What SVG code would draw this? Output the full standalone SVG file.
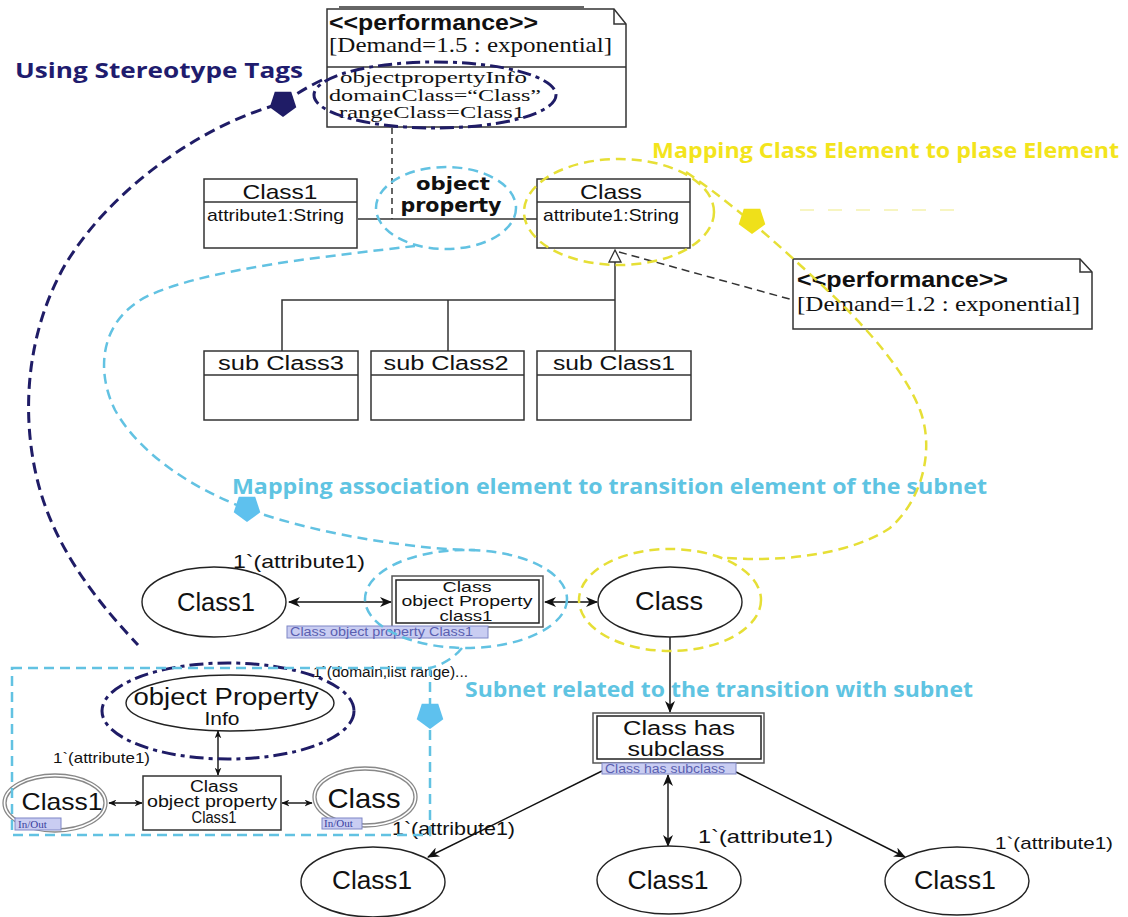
<svg xmlns="http://www.w3.org/2000/svg" width="1128" height="917" viewBox="0 0 1128 917">
<defs>
<style>
.bx{fill:#fff;stroke:#333;stroke-width:1.5}
.ln{fill:none;stroke:#333;stroke-width:1.5}
.pl{fill:#fff;stroke:#222;stroke-width:1.4}
.io{fill:none;stroke:#888;stroke-width:1.3}
.t{font-family:"Liberation Sans",Arial,sans-serif;fill:#111}
.c{text-anchor:middle}
.sf{font-family:"Liberation Serif","Times New Roman",serif;fill:#111}
.st{font-family:"Liberation Sans Narrow","Liberation Sans",Arial,sans-serif;font-weight:bold;fill:#111}
.ttl{font-family:"Open Sans","Noto Sans",sans-serif;font-weight:bold}
.navy{fill:none;stroke:#1f1c66;stroke-width:3;stroke-dasharray:11 6}
.navydd{fill:none;stroke:#1f1c66;stroke-width:3;stroke-dasharray:14 5 4 5}
.blue{fill:none;stroke:#62c2e2;stroke-width:2.5;stroke-dasharray:10 6}
.yel{fill:none;stroke:#e6df36;stroke-width:2.5;stroke-dasharray:10 6}
.lab{fill:#c9cdf2;stroke:#7f86c6;stroke-width:1}
.labt{font-family:"Liberation Sans",Arial,sans-serif;fill:#5a5fb0;font-size:12px}
.arr{fill:none;stroke:#111;stroke-width:1.4}
</style>
<marker id="ah" viewBox="0 0 12 10" refX="11" refY="5" markerWidth="12" markerHeight="10" orient="auto-start-reverse" markerUnits="userSpaceOnUse"><path d="M0,0 L12,5 L0,10 L3.5,5 Z" fill="#111"/></marker>
<marker id="as" viewBox="0 0 12 10" refX="11" refY="5" markerWidth="8" markerHeight="7" orient="auto-start-reverse" markerUnits="userSpaceOnUse"><path d="M0,0 L12,5 L0,10 L3.5,5 Z" fill="#111"/></marker>
<polygon id="pent" points="0,14 -13.3,4.3 -8.2,-11.3 8.2,-11.3 13.3,4.3"/>
</defs>
<rect width="1128" height="917" fill="#fff"/>

<!-- Titles -->
<g id="titles">
<text class="ttl" x="15" y="78" font-size="22" fill="#1f1c6e" textLength="288" lengthAdjust="spacingAndGlyphs">Using Stereotype Tags</text>
<text class="ttl" x="652" y="158" font-size="21" fill="#f3e41c" textLength="467" lengthAdjust="spacingAndGlyphs">Mapping Class Element to plase Element</text>
<text class="ttl" x="232" y="494" font-size="21" fill="#5fc4e2" textLength="755" lengthAdjust="spacingAndGlyphs">Mapping association element to transition element of the subnet</text>
<text class="ttl" x="465" y="697" font-size="21" fill="#5fc4e2" textLength="508" lengthAdjust="spacingAndGlyphs">Subnet related to the transition with subnet</text>
</g>

<!-- UML connectors -->
<g id="connectors">
<line class="ln" x1="358" y1="219" x2="537" y2="219"/>
<line class="ln" x1="392" y1="128" x2="392" y2="219" stroke-dasharray="6 4" stroke-width="1.2"/>
<line class="ln" x1="619" y1="252" x2="793" y2="300" stroke-dasharray="8 5" stroke-width="1.2"/>
<polyline class="ln" points="282,351 282,300 615,300"/>
<line class="ln" x1="448" y1="300" x2="448" y2="351"/>
<line class="ln" x1="615" y1="262" x2="615" y2="351"/>
<polygon points="615,250 609,262 621,262" fill="#fff" stroke="#333" stroke-width="1.3"/>
<line class="arr" x1="289" y1="602" x2="391" y2="602" marker-start="url(#ah)" marker-end="url(#ah)"/>
<line class="arr" x1="545" y1="602" x2="597" y2="602" marker-start="url(#ah)" marker-end="url(#ah)"/>
<line class="arr" x1="670" y1="637" x2="670" y2="712" marker-end="url(#ah)"/>
<line class="arr" x1="602" y1="771" x2="428" y2="857" marker-end="url(#ah)"/>
<line class="arr" x1="668" y1="775" x2="668" y2="846" marker-start="url(#ah)" marker-end="url(#ah)"/>
<line class="arr" x1="736" y1="772" x2="905" y2="857" marker-end="url(#ah)"/>
<line class="arr" x1="218" y1="731" x2="218" y2="775" stroke-width="1" marker-start="url(#as)" marker-end="url(#as)"/>
<line class="arr" x1="109" y1="803" x2="142" y2="803" stroke-width="1" marker-start="url(#as)" marker-end="url(#as)"/>
<line class="arr" x1="282" y1="803" x2="312" y2="803" stroke-width="1" marker-start="url(#as)" marker-end="url(#as)"/>
</g>

<!-- top performance note -->
<g id="note-top">
<path class="bx" d="M327,9 H614 L626,24 V127 H327 Z"/>
<path class="ln" d="M614,9 V24 H626" stroke-width="1.2"/>
<line x1="339" y1="7" x2="584" y2="7" stroke="#333" stroke-width="1.5"/>
<line x1="327" y1="67" x2="626" y2="67" stroke="#333" stroke-width="1.5"/>
<text class="st" x="329" y="30" font-size="22" textLength="209" lengthAdjust="spacingAndGlyphs">&lt;&lt;performance&gt;&gt;</text>
<text class="sf" x="329" y="52" font-size="21" textLength="283" lengthAdjust="spacingAndGlyphs">[Demand=1.5 : exponential]</text>
<text class="sf" x="340" y="83" font-size="17" textLength="187" lengthAdjust="spacingAndGlyphs">objectpropertyInfo</text>
<text class="sf" x="329" y="101" font-size="17" textLength="212" lengthAdjust="spacingAndGlyphs">domainClass=“Class”</text>
<text class="sf" x="339" y="118" font-size="17" textLength="186" lengthAdjust="spacingAndGlyphs">rangeClass=Class1</text>
</g>

<g id="class1-uml">
<rect class="bx" x="204" y="179" width="153" height="69"/>
<line x1="204" y1="202" x2="357" y2="202" stroke="#333" stroke-width="1.3"/>
<text class="t c" x="280" y="199" font-size="21" textLength="75" lengthAdjust="spacingAndGlyphs">Class1</text>
<text class="t" x="207" y="221" font-size="17" textLength="137" lengthAdjust="spacingAndGlyphs">attribute1:String</text>
</g>

<g id="class-uml">
<rect class="bx" x="537" y="179" width="153" height="69"/>
<line x1="537" y1="202" x2="690" y2="202" stroke="#333" stroke-width="1.3"/>
<text class="t c" x="611" y="199" font-size="21" textLength="62" lengthAdjust="spacingAndGlyphs">Class</text>
<text class="t" x="543" y="221" font-size="17" textLength="136" lengthAdjust="spacingAndGlyphs">attribute1:String</text>
</g>

<g id="objprop-label">
<text class="c" x="453" y="190" font-family="DejaVu Sans, Verdana, sans-serif" font-weight="bold" font-size="18" fill="#111" textLength="74" lengthAdjust="spacingAndGlyphs">object</text>
<text class="c" x="451" y="212" font-family="DejaVu Sans, Verdana, sans-serif" font-weight="bold" font-size="19" fill="#111" textLength="101" lengthAdjust="spacingAndGlyphs">property</text>
</g>

<g id="subclass3">
<rect class="bx" x="204" y="351" width="154" height="69"/>
<line x1="204" y1="375" x2="358" y2="375" stroke="#333" stroke-width="1.3"/>
<text class="t c" x="281" y="370" font-size="20" textLength="126" lengthAdjust="spacingAndGlyphs">sub Class3</text>
</g>
<g id="subclass2">
<rect class="bx" x="371" y="351" width="153" height="69"/>
<line x1="371" y1="375" x2="524" y2="375" stroke="#333" stroke-width="1.3"/>
<text class="t c" x="446" y="370" font-size="20" textLength="125" lengthAdjust="spacingAndGlyphs">sub Class2</text>
</g>
<g id="subclass1">
<rect class="bx" x="537" y="351" width="154" height="69"/>
<line x1="537" y1="375" x2="691" y2="375" stroke="#333" stroke-width="1.3"/>
<text class="t c" x="614" y="370" font-size="20" textLength="122" lengthAdjust="spacingAndGlyphs">sub Class1</text>
</g>

<g id="note-right">
<path class="bx" d="M793,259 H1080 L1092,272 V329 H793 Z"/>
<path class="ln" d="M1080,259 V272 H1092" stroke-width="1.2"/>
<text class="st" x="797" y="287" font-size="22" textLength="211" lengthAdjust="spacingAndGlyphs">&lt;&lt;performance&gt;&gt;</text>
<text class="sf" x="797" y="311" font-size="21" textLength="283" lengthAdjust="spacingAndGlyphs">[Demand=1.2 : exponential]</text>
</g>

<!-- Petri net main -->
<g id="place-class1">
<ellipse class="pl" cx="214" cy="602" rx="72" ry="35"/>
<text class="t c" x="216" y="611" font-size="25" textLength="78" lengthAdjust="spacingAndGlyphs">Class1</text>
<text class="t" x="233" y="568" font-size="19" textLength="132" lengthAdjust="spacingAndGlyphs">1`(attribute1)</text>
</g>

<g id="trans-objprop">
<rect x="392" y="576" width="151" height="51" fill="#fff" stroke="#555" stroke-width="1.5"/>
<rect x="396" y="580" width="143" height="43" fill="none" stroke="#222" stroke-width="1.5"/>
<text class="t c" x="467" y="592" font-size="14" textLength="49" lengthAdjust="spacingAndGlyphs">Class</text>
<text class="t c" x="467" y="606" font-size="14" textLength="131" lengthAdjust="spacingAndGlyphs">object Property</text>
<text class="t c" x="466" y="621" font-size="14" textLength="53" lengthAdjust="spacingAndGlyphs">class1</text>
<rect class="lab" x="287" y="626" width="201" height="12"/>
<text class="labt" x="290" y="636" textLength="183" lengthAdjust="spacingAndGlyphs">Class object property Class1</text>
</g>

<g id="place-class">
<ellipse class="pl" cx="670" cy="602" rx="72" ry="35"/>
<text class="t c" x="669" y="610" font-size="25" textLength="68" lengthAdjust="spacingAndGlyphs">Class</text>
</g>

<g id="trans-hassub">
<rect x="593" y="713" width="171" height="50" fill="#fff" stroke="#555" stroke-width="1.5"/>
<rect x="597" y="716" width="164" height="43" fill="none" stroke="#222" stroke-width="1.5"/>
<text class="t c" x="679" y="735" font-size="20" textLength="112" lengthAdjust="spacingAndGlyphs">Class has</text>
<text class="t c" x="676" y="756" font-size="20" textLength="97" lengthAdjust="spacingAndGlyphs">subclass</text>
<rect class="lab" x="602" y="763" width="134" height="11"/>
<text class="labt" x="605" y="773" textLength="120" lengthAdjust="spacingAndGlyphs">Class has subclass</text>
</g>

<g id="place-bottom-left">
<ellipse class="pl" cx="373" cy="882" rx="72" ry="35"/>
<text class="t c" x="372" y="889" font-size="25" textLength="80" lengthAdjust="spacingAndGlyphs">Class1</text>
<text class="t" x="392" y="835" font-size="19" textLength="123" lengthAdjust="spacingAndGlyphs">1`(attribute1)</text>
</g>
<g id="place-bottom-mid">
<ellipse class="pl" cx="669" cy="880" rx="72" ry="34"/>
<text class="t c" x="668" y="889" font-size="25" textLength="81" lengthAdjust="spacingAndGlyphs">Class1</text>
<text class="t" x="698" y="843" font-size="19" textLength="135" lengthAdjust="spacingAndGlyphs">1`(attribute1)</text>
</g>
<g id="place-bottom-right">
<ellipse class="pl" cx="957" cy="881" rx="72" ry="34"/>
<text class="t c" x="955" y="889" font-size="25" textLength="82" lengthAdjust="spacingAndGlyphs">Class1</text>
<text class="t" x="995" y="849" font-size="17" textLength="118" lengthAdjust="spacingAndGlyphs">1`(attribute1)</text>
</g>

<!-- Subnet -->
<g id="sub-info">
<ellipse class="pl" cx="230" cy="703" rx="104" ry="28"/>
<text class="t c" x="226" y="705" font-size="23" textLength="185" lengthAdjust="spacingAndGlyphs">object Property</text>
<text class="t c" x="222" y="725" font-size="18" textLength="35" lengthAdjust="spacingAndGlyphs">Info</text>
<text class="t" x="313" y="677" font-size="14" textLength="155" lengthAdjust="spacingAndGlyphs">1`(domain,list range)...</text>
</g>
<g id="sub-trans">
<rect class="bx" x="143" y="776" width="138" height="54" stroke-width="1.2"/>
<text class="t c" x="214" y="792" font-size="16" textLength="48" lengthAdjust="spacingAndGlyphs">Class</text>
<text class="t c" x="212" y="807" font-size="16" textLength="130" lengthAdjust="spacingAndGlyphs">object property</text>
<text class="t c" x="214" y="823" font-size="16" textLength="45" lengthAdjust="spacingAndGlyphs">Class1</text>
</g>
<g id="sub-class1">
<ellipse class="io" cx="55" cy="803" rx="52" ry="29"/>
<ellipse class="io" cx="55" cy="803" rx="49" ry="26"/>
<text class="t c" x="62" y="810" font-size="24" textLength="81" lengthAdjust="spacingAndGlyphs">Class1</text>
<text class="t" x="53" y="763" font-size="15" textLength="97" lengthAdjust="spacingAndGlyphs">1`(attribute1)</text>
<rect class="lab" x="15" y="818" width="46" height="12"/>
<text x="18" y="828" font-family="Liberation Serif, serif" font-size="11" fill="#3a3f9e">In/Out</text>
</g>
<g id="sub-class">
<ellipse class="io" cx="365" cy="797" rx="52" ry="30"/>
<ellipse class="io" cx="365" cy="797" rx="49" ry="27"/>
<text class="t c" x="364" y="808" font-size="28" textLength="73" lengthAdjust="spacingAndGlyphs">Class</text>
<rect class="lab" x="322" y="818" width="40" height="11"/>
<text x="324" y="827" font-family="Liberation Serif, serif" font-size="11" fill="#3a3f9e">In/Out</text>
</g>

<!-- Annotation overlays -->
<g id="annotations">
<ellipse class="navydd" cx="435" cy="95" rx="121" ry="33"/>
<path class="navy" d="M322,80 C305,88 292,97 283,103 C200,125 110,190 65,265 C25,335 20,420 40,490 C60,560 110,615 138,645"/>
<use href="#pent" x="283" y="103" fill="#1f1c66"/>
<ellipse class="navydd" cx="228" cy="711" rx="126" ry="48"/>

<ellipse class="blue" cx="446" cy="208" rx="70" ry="41"/>
<path class="blue" d="M415,246 C330,256 210,268 150,295 C100,318 95,370 115,410 C140,455 195,490 250,510 C320,535 420,550 475,550"/>
<use href="#pent" x="247" y="508" fill="#5ec1ee"/>
<ellipse class="blue" cx="466" cy="599" rx="101" ry="49"/>
<path class="blue" d="M462,648 C454,658 442,665 430,668"/>
<path class="blue" d="M12,668 H430 V835 H12 Z"/>
<use href="#pent" x="430" y="715" fill="#5ec1ee"/>

<ellipse class="yel" cx="619" cy="212" rx="95" ry="53"/>
<path class="yel" d="M686,172 C720,195 760,228 800,265 C850,310 900,360 920,410 C935,450 922,500 890,528 C850,555 780,562 727,558"/>
<use href="#pent" x="752" y="220" fill="#efe01a"/>
<line x1="800" y1="210" x2="960" y2="210" stroke="#e6df36" stroke-width="2" stroke-dasharray="14 14" opacity="0.3"/>
<ellipse class="yel" cx="670" cy="600" rx="91" ry="51"/>
</g>
</svg>
